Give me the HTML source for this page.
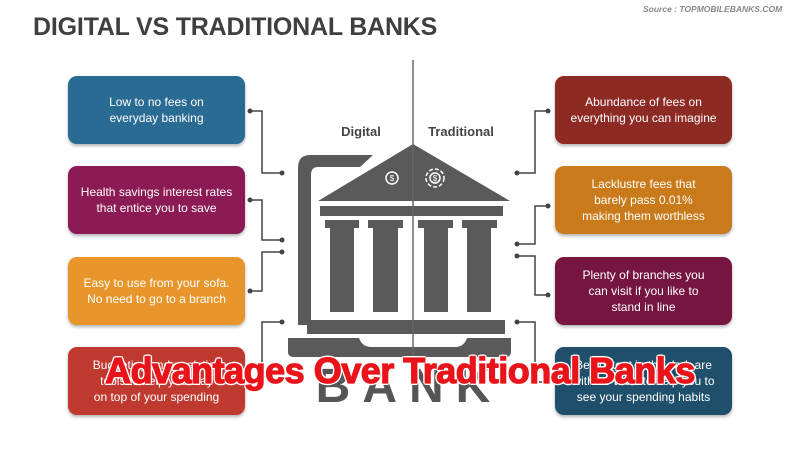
<!DOCTYPE html>
<html><head><meta charset="utf-8"><style>
body{margin:0;width:800px;height:450px;background:#fff;position:relative;overflow:hidden;font-family:"Liberation Sans",sans-serif}
.t{position:absolute;left:33px;top:13px;font-size:25px;font-weight:bold;color:#3f3f3f;letter-spacing:-0.2px}
.src{position:absolute;left:643px;top:4px;font-size:8.5px;font-style:italic;font-weight:bold;color:#888}
.b{position:absolute;width:177px;height:68px;border-radius:9px;color:#fff;font-size:12px;line-height:16px;display:flex;align-items:center;justify-content:center;text-align:center;box-shadow:0 2px 3px rgba(0,0,0,.3)}
.ov{position:absolute;left:0;width:800px;top:350px;text-align:center;font-size:36px;font-weight:bold;color:#e8141a;-webkit-text-stroke:1.2px #e8141a;letter-spacing:-0.5px;text-shadow:2px 0 0 #fff,-2px 0 0 #fff,0 2px 0 #fff,0 -2px 0 #fff,1.5px 1.5px 0 #fff,-1.5px -1.5px 0 #fff,1.5px -1.5px 0 #fff,-1.5px 1.5px 0 #fff}
</style></head><body>
<div class="t">DIGITAL VS TRADITIONAL BANKS</div>
<div class="src">Source : TOPMOBILEBANKS.COM</div>
<svg width="800" height="450" style="position:absolute;left:0;top:0">
<g fill="none" stroke="#444" stroke-width="1.5">
<polyline points="250,111 262,111 262,173 282,173"/>
<polyline points="250,200 262,200 262,240 282,240"/>
<polyline points="250,291 262,291 262,252 282,252"/>
<polyline points="250,382 262,382 262,322 282,322"/>
<polyline points="548,111 535,111 535,173 517,173"/>
<polyline points="548,206 535,206 535,244 517,244"/>
<polyline points="548,295 535,295 535,256 517,256"/>
<polyline points="548,382 535,382 535,322 517,322"/>
</g>
<g fill="#444">
<circle cx="250" cy="111" r="2.5"/><circle cx="282" cy="173" r="2.5"/>
<circle cx="250" cy="200" r="2.5"/><circle cx="282" cy="240" r="2.5"/>
<circle cx="250" cy="291" r="2.5"/><circle cx="282" cy="252" r="2.5"/>
<circle cx="250" cy="382" r="2.5"/><circle cx="282" cy="322" r="2.5"/>
<circle cx="548" cy="111" r="2.5"/><circle cx="517" cy="173" r="2.5"/>
<circle cx="548" cy="206" r="2.5"/><circle cx="517" cy="244" r="2.5"/>
<circle cx="548" cy="295" r="2.5"/><circle cx="517" cy="256" r="2.5"/>
<circle cx="548" cy="382" r="2.5"/><circle cx="517" cy="322" r="2.5"/>
</g>
<g fill="#5a5a5a">
<path d="M310,155 H373 L360,167 H318 Q311,167 311,175 V325 H298 V168 Q298,155 310,155Z"/>
<polygon points="413,144 510,201 318,201"/>
<rect x="320" y="206" width="183" height="10"/>
<rect x="325" y="220" width="34" height="8"/><rect x="330" y="228" width="24" height="84"/>
<rect x="368" y="220" width="35" height="8"/><rect x="373" y="228" width="25" height="84"/>
<rect x="418" y="220" width="35" height="8"/><rect x="424" y="228" width="24" height="84"/>
<rect x="462" y="220" width="35" height="8"/><rect x="467" y="228" width="24" height="84"/>
<rect x="307" y="320" width="198" height="14"/>
<path d="M288,338 H359 Q362,347 372,347 H455 Q464,347 467,338 H511 V352 Q511,357 505,357 H294 Q288,357 288,352Z"/>
</g>
<g fill="none" stroke="#fff" stroke-width="1.5">
<circle cx="392" cy="178" r="6"/><circle cx="435" cy="178" r="9" stroke-dasharray="4 2"/><circle cx="435" cy="178" r="5"/>
</g>
<text x="392" y="181" font-size="8" fill="#fff" text-anchor="middle" font-family="Liberation Sans">$</text>
<text x="435" y="181" font-size="8" fill="#fff" text-anchor="middle" font-family="Liberation Sans">$</text>
<line x1="413" y1="60" x2="413" y2="360" stroke="#666" stroke-width="1.5"/>
<text x="409" y="402" font-size="48" font-weight="bold" fill="#555" text-anchor="middle" letter-spacing="12" font-family="Liberation Sans">BANK</text>
<text x="361" y="136" font-size="13" font-weight="bold" fill="#444" text-anchor="middle" font-family="Liberation Sans">Digital</text>
<text x="461" y="136" font-size="13" font-weight="bold" fill="#444" text-anchor="middle" font-family="Liberation Sans">Traditional</text>
</svg>
<div class="b" style="left:68px;top:76px;background:#2a6b94">Low to no fees on<br>everyday banking</div>
<div class="b" style="left:68px;top:166px;background:#8c1a55">Health savings interest rates<br>that entice you to save</div>
<div class="b" style="left:68px;top:257px;background:#e8962c">Easy to use from your sofa.<br>No need to go to a branch</div>
<div class="b" style="left:68px;top:347px;background:#c0392f">Budgeting and analytics<br>tools to help you stay<br>on top of your spending</div>
<div class="b" style="left:555px;top:76px;background:#8e2a24">Abundance of fees on<br>everything you can imagine</div>
<div class="b" style="left:555px;top:166px;background:#c97a1a">Lacklustre fees that<br>barely pass 0.01%<br>making them worthless</div>
<div class="b" style="left:555px;top:257px;background:#761640">Plenty of branches you<br>can visit if you like to<br>stand in line</div>
<div class="b" style="left:555px;top:347px;background:#1f4f6b">Being kept in the dark are<br>with no tools to help you to<br>see your spending habits</div>
<div class="ov">Advantages Over Traditional Banks</div>
</body></html>
